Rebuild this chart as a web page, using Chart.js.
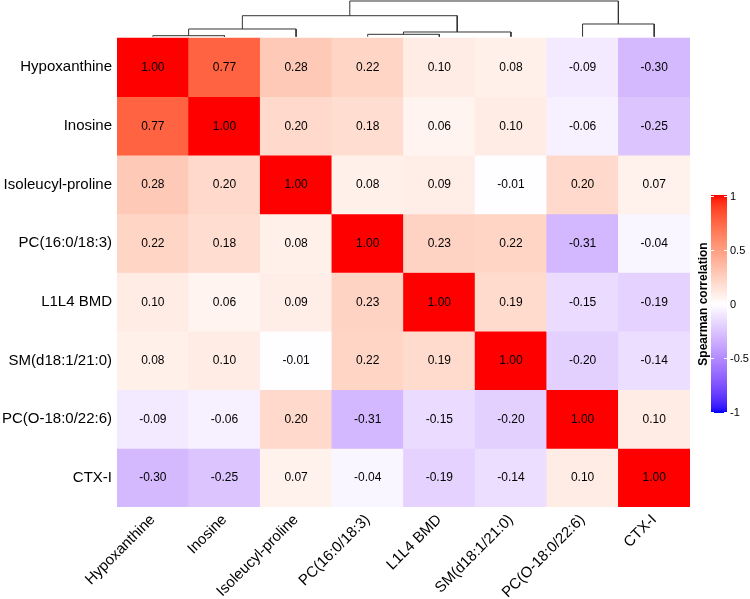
<!DOCTYPE html>
<html><head><meta charset="utf-8">
<script src="https://cdn.jsdelivr.net/npm/chart.js@4.4.0/dist/chart.umd.min.js"></script>
<style>html,body{margin:0;padding:0;background:#fff;}canvas{display:block;}</style>
</head><body>
<canvas id="c" width="750" height="599"></canvas>
<script>
// ---- data ----
const variables = ['Hypoxanthine','Inosine','Isoleucyl-proline','PC(16:0/18:3)','L1L4 BMD','SM(d18:1/21:0)','PC(O-18:0/22:6)','CTX-I'];
const rowHypoxanthine = [1.00, 0.77, 0.28, 0.22, 0.10, 0.08, -0.09, -0.30];
const rowInosine      = [0.77, 1.00, 0.20, 0.18, 0.06, 0.10, -0.06, -0.25];
const rowIsoleucyl    = [0.28, 0.20, 1.00, 0.08, 0.09, -0.01, 0.20, 0.07];
const rowPC16         = [0.22, 0.18, 0.08, 1.00, 0.23, 0.22, -0.31, -0.04];
const rowL1L4         = [0.10, 0.06, 0.09, 0.23, 1.00, 0.19, -0.15, -0.19];
const rowSM           = [0.08, 0.10, -0.01, 0.22, 0.19, 1.00, -0.20, -0.14];
const rowPCO          = [-0.09, -0.06, 0.20, -0.31, -0.15, -0.20, 1.00, 0.10];
const rowCTX          = [-0.30, -0.25, 0.07, -0.04, -0.19, -0.14, 0.10, 1.00];
const corrRows = [rowHypoxanthine,rowInosine,rowIsoleucyl,rowPC16,rowL1L4,rowSM,rowPCO,rowCTX];
const legendTicks = [1, 0.5, 0, -0.5, -1];
const legendTickLabels = ['1','0.5','0','-0.5','-1'];
const legendTitle = 'Spearman correlation';
// hclust-style merges (negative = leaf, positive = earlier merge) and relative heights
const dendroMerges  = [[-1,-2],[-4,-5],[2,-6],[1,-3],[-7,-8],[4,3],[6,5]];
const dendroHeights = [0.028, 0.067, 0.132, 0.216, 0.356, 0.588, 1.0];

// ---- colour: blue-white-red interpolated in LAB ----
const colorBreaks = [-1, 0, 1];
const colorValues = [[0,0,255],[255,255,255],[255,0,0]];
function toLin(c){c/=255;return c<=0.04045?c/12.92:Math.pow((c+0.055)/1.055,2.4);}
function toSrgb(c){c=Math.max(0,Math.min(1,c));c=c<=0.0031308?12.92*c:1.055*Math.pow(c,1/2.4)-0.055;return Math.round(c*255);}
const Xn=0.95047,Yn=1,Zn=1.08883;
function ff(t){return t>0.008856?Math.cbrt(t):7.787*t+16/116;}
function fi(t){return t>0.206893?t*t*t:(t-16/116)/7.787;}
function rgb2lab(c){const r=toLin(c[0]),g=toLin(c[1]),b=toLin(c[2]);
  const X=0.4124*r+0.3576*g+0.1805*b,Y=0.2126*r+0.7152*g+0.0722*b,Z=0.0193*r+0.1192*g+0.9505*b;
  const fx=ff(X/Xn),fy=ff(Y/Yn),fz=ff(Z/Zn);return [116*fy-16,500*(fx-fy),200*(fy-fz)];}
function lab2rgb(l){const fy=(l[0]+16)/116,fx=fy+l[1]/500,fz=fy-l[2]/200;
  const X=Xn*fi(fx),Y=Yn*fi(fy),Z=Zn*fi(fz);
  return [toSrgb(3.2406*X-1.5372*Y-0.4986*Z),toSrgb(-0.9689*X+1.8758*Y+0.0415*Z),toSrgb(0.0557*X-0.2040*Y+1.0570*Z)];}
const labValues = colorValues.map(rgb2lab);
function colorFor(v){
  v=Math.max(-1,Math.min(1,v));
  let k = v<=0?0:1;
  const t=(v-colorBreaks[k])/(colorBreaks[k+1]-colorBreaks[k]);
  const a=labValues[k],b=labValues[k+1];
  const c=lab2rgb([a[0]+(b[0]-a[0])*t,a[1]+(b[1]-a[1])*t,a[2]+(b[2]-a[2])*t]);
  return `rgb(${c[0]},${c[1]},${c[2]})`;
}

// ---- layout constants ----
const FONT = '"Liberation Sans", Arial, Helvetica, sans-serif';
const LEAF_Y = -0.022, ROOT_Y = -0.631;
function dendY(h){return LEAF_Y + h*(ROOT_Y-LEAF_Y);}

// ---- datasets ----
const datasets = [];
corrRows.forEach((row,r)=>{
  datasets.push({
    type:'bar',
    data: row.map((v,j)=>({x:j+0.5, y:[r, r+1]})),
    backgroundColor: row.map(colorFor),
    borderWidth:0, barPercentage:1, categoryPercentage:1, grouped:false, order:2
  });
});
// dendrogram segments
const nodes = [];
function nodeOf(id){ return id<0 ? {x:-id-0.5, h:0} : nodes[id-1]; }
dendroMerges.forEach((m,i)=>{
  const a=nodeOf(m[0]), b=nodeOf(m[1]), h=dendroHeights[i];
  nodes.push({x:(a.x+b.x)/2, h});
  datasets.push({
    type:'line',
    data:[{x:a.x,y:dendY(a.h)},{x:a.x,y:dendY(h)},{x:b.x,y:dendY(h)},{x:b.x,y:dendY(b.h)}],
    borderColor:'#333', borderWidth:1, pointRadius:0, fill:false, tension:0, clip:false, order:1
  });
});

const overlay = {
  id:'overlay',
  afterDatasetsDraw(chart){
    const {ctx, scales:{x,y}} = chart;
    ctx.save();
    ctx.font = '12px '+FONT; ctx.fillStyle='#000'; ctx.textAlign='center'; ctx.textBaseline='middle';
    corrRows.forEach((row,r)=>row.forEach((v,j)=>{
      ctx.fillText(v.toFixed(2), x.getPixelForValue(j+0.5), y.getPixelForValue(r+0.5)+0.5);
    }));
    // colour legend
    const bx=711, bw=16, cy=304, unit=108;
    const top=cy-unit*1-1, bot=cy+unit*1+1;
    for(let py=top; py<bot; py++){
      const v=(cy-(py+0.5))/unit;
      ctx.fillStyle=colorFor(v); ctx.fillRect(bx,py,bw,1);
    }
    ctx.strokeStyle='#fff'; ctx.lineWidth=1;
    legendTicks.forEach((t,i)=>{
      const py=Math.round(cy-t*unit)+0.5;
      ctx.beginPath(); ctx.moveTo(bx,py); ctx.lineTo(bx+3,py); ctx.moveTo(bx+bw-3,py); ctx.lineTo(bx+bw,py); ctx.stroke();
      ctx.fillStyle='#000'; ctx.font='11px '+FONT; ctx.textAlign='left'; ctx.textBaseline='middle';
      ctx.fillText(legendTickLabels[i], bx+bw+3, py);
    });
    ctx.translate(704, cy); ctx.rotate(-Math.PI/2);
    ctx.font='bold 12px '+FONT; ctx.textAlign='center'; ctx.textBaseline='middle'; ctx.fillStyle='#000';
    ctx.fillText(legendTitle, 0, 0);
    ctx.restore();
  }
};

new Chart(document.getElementById('c'), {
  type:'bar',
  data:{datasets},
  options:{
    responsive:false, animation:false,
    layout:{padding:{left:0, right:60, top:0, bottom:0}},
    plugins:{legend:{display:false}, tooltip:{enabled:false}},
    scales:{
      x:{type:'linear', min:0, max:8, offset:false, position:'bottom',
         grid:{display:false, drawTicks:false}, border:{display:false},
         afterBuildTicks:s=>{s.ticks=variables.map((_,i)=>({value:i+0.5}));},
         afterFit:s=>{s.height=92; s.paddingLeft=0; s.paddingRight=0;},
         ticks:{autoSkip:false, minRotation:45, maxRotation:45, padding:4, color:'#000',
                font:{family:FONT, size:15}, callback:(v,i)=>variables[i]}},
      y:{type:'linear', min:-0.648, max:8, reverse:true,
         grid:{display:false, drawTicks:false}, border:{display:false},
         afterBuildTicks:s=>{s.ticks=variables.map((_,i)=>({value:i+0.5}));},
         afterFit:s=>{s.width=117; s.paddingTop=0; s.paddingBottom=0;},
         ticks:{autoSkip:false, padding:5, color:'#000', font:{family:FONT, size:15}, callback:(v,i)=>variables[i]}}
    }
  },
  plugins:[overlay]
});
</script>
</body></html>
